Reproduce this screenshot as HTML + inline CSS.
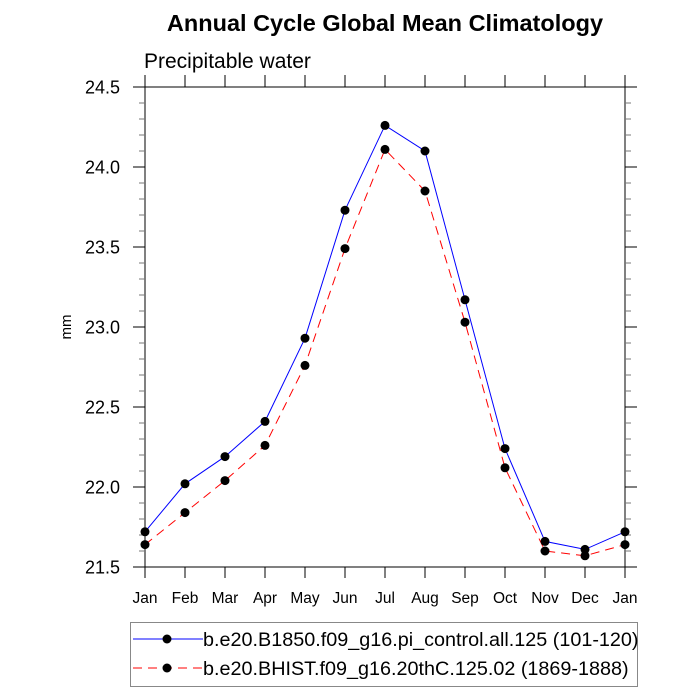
<!DOCTYPE html>
<html><head><meta charset="utf-8"><style>
body{margin:0;background:#fff}
svg{display:block;font-family:"Liberation Sans",sans-serif}
</style></head><body>
<svg id="chart" width="700" height="700">
<text x="385" y="31" text-anchor="middle" font-size="23.5" font-weight="bold">Annual Cycle Global Mean Climatology</text>
<text x="144" y="68" font-size="21">Precipitable water</text>
<text transform="translate(71,327) rotate(-90)" text-anchor="middle" font-size="15">mm</text>
<g id="axes"></g>
<g id="series"></g>
<g>
<rect x="130.5" y="622.5" width="507" height="64" fill="none" stroke="#888"/>
<g>
<line x1="133" y1="639" x2="203" y2="639" stroke="#0000ff" stroke-width="1"/>
<circle cx="167" cy="639" r="4.5" fill="#000"/>
<text x="203" y="646" font-size="19.8">b.e20.B1850.f09_g16.pi_control.all.125 (101-120)</text>
</g>
<g>
<line x1="133" y1="668" x2="203" y2="668" stroke="#ff0000" stroke-width="1" stroke-dasharray="9,6"/>
<circle cx="167" cy="668" r="4.5" fill="#000"/>
<text x="203" y="675" font-size="19.8">b.e20.BHIST.f09_g16.20thC.125.02 (1869-1888)</text>
</g>
</g>
</svg>
<script>
const months = ["Jan","Feb","Mar","Apr","May","Jun","Jul","Aug","Sep","Oct","Nov","Dec","Jan"];
const controlValues = [21.72,22.02,22.19,22.41,22.93,23.73,24.26,24.10,23.17,22.24,21.66,21.61,21.72];
const histValues = [21.64,21.84,22.04,22.26,22.76,23.49,24.11,23.85,23.03,22.12,21.60,21.57,21.64];
const yTicks = ["21.5","22.0","22.5","23.0","23.5","24.0","24.5"];
const NS="http://www.w3.org/2000/svg";
const L=145,R=625,T=87,B=567,yMin=21.5,yMax=24.5;
const xs=i=>L+(R-L)*i/(months.length-1);
const ys=v=>B-(v-yMin)/(yMax-yMin)*(B-T);
function mk(tag,attrs,parent){const e=document.createElementNS(NS,tag);for(const k in attrs)e.setAttribute(k,attrs[k]);parent.appendChild(e);return e;}
const ax=document.getElementById('axes');
const frame=mk('rect',{x:L,y:T,width:R-L,height:B-T,fill:'none',stroke:'#000','stroke-width':1},ax);


months.forEach((m,i)=>{
  const x=xs(i);
  mk('line',{x1:x,y1:B,x2:x,y2:B+11,stroke:'#000'},ax);
  mk('line',{x1:x,y1:T,x2:x,y2:T-12,stroke:'#000'},ax);
  const t=mk('text',{x:x,y:B+36,'text-anchor':'middle','font-size':15.5},ax);
  t.textContent=m;
  
  
});
for(let k=0;k<=30;k++){
  const v=yMin+k*0.1,y=ys(v),major=k%5===0,len=major?12:6,col=major?'#000':'#777';
  mk('line',{x1:L,y1:y,x2:L-len,y2:y,stroke:col},ax);
  mk('line',{x1:R,y1:y,x2:R+len,y2:y,stroke:col},ax);
}
yTicks.forEach(s=>{
  const t=mk('text',{x:L-25,y:ys(parseFloat(s))+6.5,'text-anchor':'end','font-size':18},ax);
  t.textContent=s;
  
  
});
const sg=document.getElementById('series');
function draw(vals,color,dash,name){
  const g=mk('g',{},sg);
  
  
  const pl=mk('polyline',{points:vals.map((v,i)=>xs(i)+','+ys(v)).join(' '),fill:'none',stroke:color,'stroke-width':1,'stroke-dasharray':dash},g);
  
  
  vals.forEach((v,i)=>{
    const c=mk('circle',{cx:xs(i),cy:ys(v),r:4.5,fill:'#000'},g);
    
    
  });
}
draw(histValues,'#ff0000','9,6','series-hist');
draw(controlValues,'#0000ff','none','series-control');
</script>
</body></html>
